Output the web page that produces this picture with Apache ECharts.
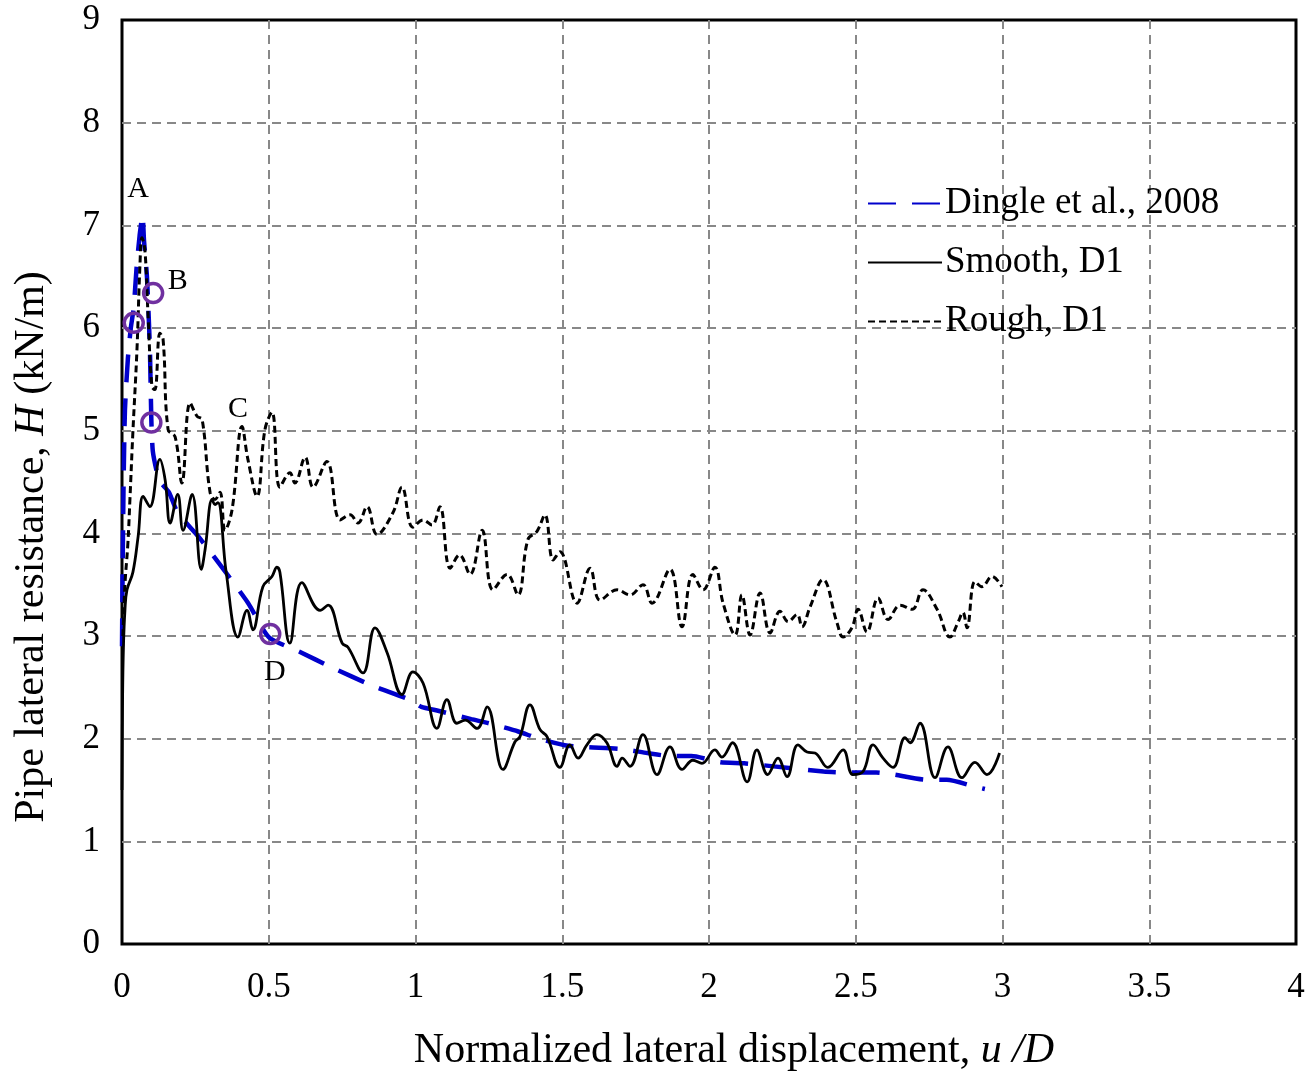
<!DOCTYPE html>
<html>
<head>
<meta charset="utf-8">
<script src="https://cdn.jsdelivr.net/npm/echarts@6/dist/echarts.min.js"></script>
<style>html,body{margin:0;padding:0;background:#fff}#c{width:1306px;height:1074px}</style>
</head>
<body>
<div id="c"></div>
<script>
const seriesNames = ['Dingle et al., 2008', 'Smooth, D1', 'Rough, D1'];
const xTicks = [0, 0.5, 1, 1.5, 2, 2.5, 3, 3.5, 4];
const yTicks = [0, 1, 2, 3, 4, 5, 6, 7, 8, 9];

const dingle = [[0,2.9],[0.002,3.6],[0.005,4.4],[0.01,5.2],[0.02,5.7],[0.03,6.0],[0.04,6.2],[0.05,6.6],[0.06,6.9],[0.07,7.1],[0.075,6.85],[0.085,6.5],[0.095,5.8],[0.1,5.1],[0.105,4.8],[0.12,4.58],[0.13,4.5],[0.16,4.4],[0.19,4.2],[0.26,3.97],[0.33,3.71],[0.43,3.32],[0.5,2.99],[0.61,2.84],[0.71,2.70],[0.85,2.52],[0.98,2.38],[1.02,2.31],[1.08,2.27],[1.19,2.19],[1.25,2.15],[1.35,2.07],[1.42,2.0],[1.52,1.93],[1.70,1.90],[1.79,1.86],[1.87,1.83],[1.94,1.83],[2.04,1.77],[2.12,1.76],[2.22,1.73],[2.39,1.68],[2.46,1.67],[2.57,1.67],[2.63,1.65],[2.74,1.60],[2.81,1.60],[2.91,1.53],[2.94,1.51]];

const smoothD1 = [[0,1.5],[0.002,2.4],[0.005,2.9],[0.01,3.25],[0.017,3.45],[0.037,3.62],[0.055,3.97],[0.072,4.36],[0.095,4.26],[0.129,4.72],[0.147,4.52],[0.164,4.1],[0.19,4.38],[0.208,4.03],[0.239,4.38],[0.27,3.65],[0.283,3.84],[0.307,4.33],[0.317,4.28],[0.327,4.3],[0.355,3.62],[0.395,2.99],[0.426,3.25],[0.446,3.06],[0.48,3.48],[0.511,3.58],[0.528,3.67],[0.538,3.62],[0.572,2.93],[0.613,3.52],[0.675,3.25],[0.702,3.3],[0.75,2.93],[0.77,2.89],[0.821,2.64],[0.862,3.08],[0.903,2.84],[0.954,2.43],[0.991,2.65],[1.026,2.54],[1.073,2.10],[1.107,2.38],[1.141,2.15],[1.169,2.18],[1.21,2.10],[1.244,2.31],[1.298,1.70],[1.339,1.97],[1.356,2.02],[1.39,2.33],[1.424,2.09],[1.448,2.02],[1.492,1.72],[1.526,1.94],[1.554,1.81],[1.584,1.94],[1.618,2.04],[1.652,1.96],[1.687,1.73],[1.704,1.81],[1.731,1.73],[1.775,2.04],[1.823,1.65],[1.867,1.92],[1.908,1.70],[1.945,1.79],[1.976,1.76],[2.02,1.89],[2.044,1.82],[2.08,1.96],[2.13,1.58],[2.163,1.89],[2.20,1.65],[2.235,1.81],[2.266,1.63],[2.303,1.94],[2.334,1.87],[2.361,1.86],[2.405,1.72],[2.457,1.89],[2.49,1.65],[2.525,1.68],[2.559,1.94],[2.593,1.81],[2.627,1.72],[2.668,2.01],[2.685,1.96],[2.719,2.15],[2.77,1.62],[2.814,1.92],[2.862,1.62],[2.906,1.77],[2.947,1.65],[2.99,1.86]];

const roughD1 = [[0.003,3.0],[0.01,3.5],[0.02,3.9],[0.027,4.33],[0.037,4.98],[0.051,5.79],[0.061,6.6],[0.068,6.88],[0.078,6.76],[0.089,6.11],[0.102,5.43],[0.112,5.40],[0.129,5.95],[0.14,5.89],[0.157,5.01],[0.181,4.94],[0.204,4.49],[0.232,5.27],[0.256,5.14],[0.273,5.11],[0.30,4.40],[0.317,4.33],[0.334,4.40],[0.351,4.03],[0.375,4.23],[0.409,5.04],[0.429,4.72],[0.46,4.36],[0.487,5.01],[0.511,5.18],[0.538,4.45],[0.572,4.59],[0.589,4.49],[0.624,4.74],[0.651,4.45],[0.698,4.70],[0.743,4.13],[0.777,4.18],[0.804,4.10],[0.835,4.26],[0.869,3.99],[0.923,4.20],[0.954,4.45],[0.991,4.06],[1.026,4.13],[1.056,4.08],[1.083,4.26],[1.118,3.66],[1.15,3.79],[1.186,3.60],[1.227,4.03],[1.264,3.45],[1.312,3.60],[1.349,3.40],[1.383,3.94],[1.414,4.02],[1.441,4.18],[1.469,3.74],[1.492,3.82],[1.55,3.32],[1.595,3.66],[1.629,3.35],[1.687,3.45],[1.731,3.40],[1.775,3.50],[1.806,3.32],[1.867,3.65],[1.908,3.09],[1.945,3.60],[1.98,3.45],[2.02,3.67],[2.048,3.32],[2.089,3.01],[2.112,3.40],[2.14,3.01],[2.174,3.42],[2.208,3.03],[2.242,3.24],[2.27,3.14],[2.30,3.21],[2.317,3.09],[2.344,3.28],[2.388,3.55],[2.436,3.13],[2.457,2.99],[2.487,3.08],[2.508,3.26],[2.538,3.04],[2.576,3.37],[2.61,3.16],[2.651,3.30],[2.692,3.26],[2.729,3.45],[2.777,3.26],[2.821,2.99],[2.848,3.13],[2.865,3.23],[2.879,3.08],[2.906,3.53],[2.93,3.48],[2.964,3.58],[2.998,3.48]];

const circlePoints = [[0.04,6.05],[0.106,6.34],[0.1,5.08],[0.505,3.02]];
const pointLabels = ['A', 'B', 'C', 'D'];
const pointLabelPos = [[0.055,7.35],[0.19,6.46],[0.395,5.21],[0.521,2.65]];

const FONT = "'Liberation Serif', 'Times New Roman', serif";
const chart = echarts.init(document.getElementById('c'), null, {renderer: 'canvas'});
chart.setOption({
  animation: false,
  backgroundColor: '#fff',
  grid: {left: 122, right: 10, top: 20, bottom: 130, show: true, borderColor: '#000', borderWidth: 3,
    backgroundColor: 'transparent', containLabel: false, outerBoundsMode: 'none'},
  legend: {
    data: seriesNames,
    orient: 'vertical',
    left: 862, top: 180,
    itemWidth: 74, itemHeight: 14, itemGap: 22,
    itemStyle: {opacity: 0},
    textStyle: {fontFamily: FONT, fontSize: 37, color: '#000', padding: [0,0,0,-2]}
  },
  xAxis: {
    type: 'value', min: xTicks[0], max: xTicks[xTicks.length-1], interval: 0.5,
    name: 'Normalized lateral displacement, {i|u /D}',
    nameLocation: 'middle', nameGap: 86,
    nameTextStyle: {fontFamily: FONT, fontSize: 42, color: '#000', padding: [0,0,0,50],
      rich: {i: {fontFamily: FONT, fontSize: 42, fontStyle: 'italic', color: '#000'}}},
    axisLine: {show: false}, axisTick: {show: false},
    axisLabel: {fontFamily: FONT, fontSize: 35, color: '#000', margin: 26},
    splitLine: {show: true, showMinLine: false, showMaxLine: false, lineStyle: {color: '#888', type: [9, 6], width: 2}}
  },
  yAxis: {
    type: 'value', min: yTicks[0], max: yTicks[yTicks.length-1], interval: 1,
    name: 'Pipe lateral resistance, {i|H} (kN/m)',
    nameLocation: 'middle', nameGap: 69, nameRotate: 90,
    nameTextStyle: {fontFamily: FONT, fontSize: 42, color: '#000', padding: [0,130,0,0],
      rich: {i: {fontFamily: FONT, fontSize: 42, fontStyle: 'italic', color: '#000'}}},
    axisLine: {show: false}, axisTick: {show: false},
    axisLabel: {fontFamily: FONT, fontSize: 35, color: '#000', margin: 22},
    splitLine: {show: true, showMinLine: false, showMaxLine: false, lineStyle: {color: '#888', type: [9, 6], width: 2}}
  },
  series: [
    {name: seriesNames[0], type: 'line', data: dingle, showSymbol: false, symbol: 'none', smooth: 0.2, z: 3,
      lineStyle: {color: '#0000CC', width: 4.5, type: [28, 16]}, itemStyle: {color: '#0000CC'}},
    {name: seriesNames[1], type: 'line', data: smoothD1, showSymbol: false, symbol: 'none', smooth: 0.4, z: 4,
      lineStyle: {color: '#000', width: 2.8, type: 'solid'}, itemStyle: {color: '#000'}},
    {name: seriesNames[2], type: 'line', data: roughD1, showSymbol: false, symbol: 'none', smooth: 0.4, z: 4,
      lineStyle: {color: '#000', width: 3, type: [7, 4]}, itemStyle: {color: '#000'}},
    {name: 'points', type: 'scatter', data: circlePoints, symbol: 'circle', symbolSize: 19, z: 5,
      itemStyle: {color: 'rgba(0,0,0,0)', borderColor: '#7030A0', borderWidth: 3.5, opacity: 1}},
    {name: 'labels', type: 'scatter', symbolSize: 0, z: 6,
      data: pointLabelPos.map((p, i) => ({value: p, name: pointLabels[i]})),
      itemStyle: {opacity: 1},
      label: {show: true, position: 'inside', formatter: '{b}', fontFamily: FONT, fontSize: 30, color: '#000', opacity: 1}}
  ]
});
</script>
</body>
</html>
